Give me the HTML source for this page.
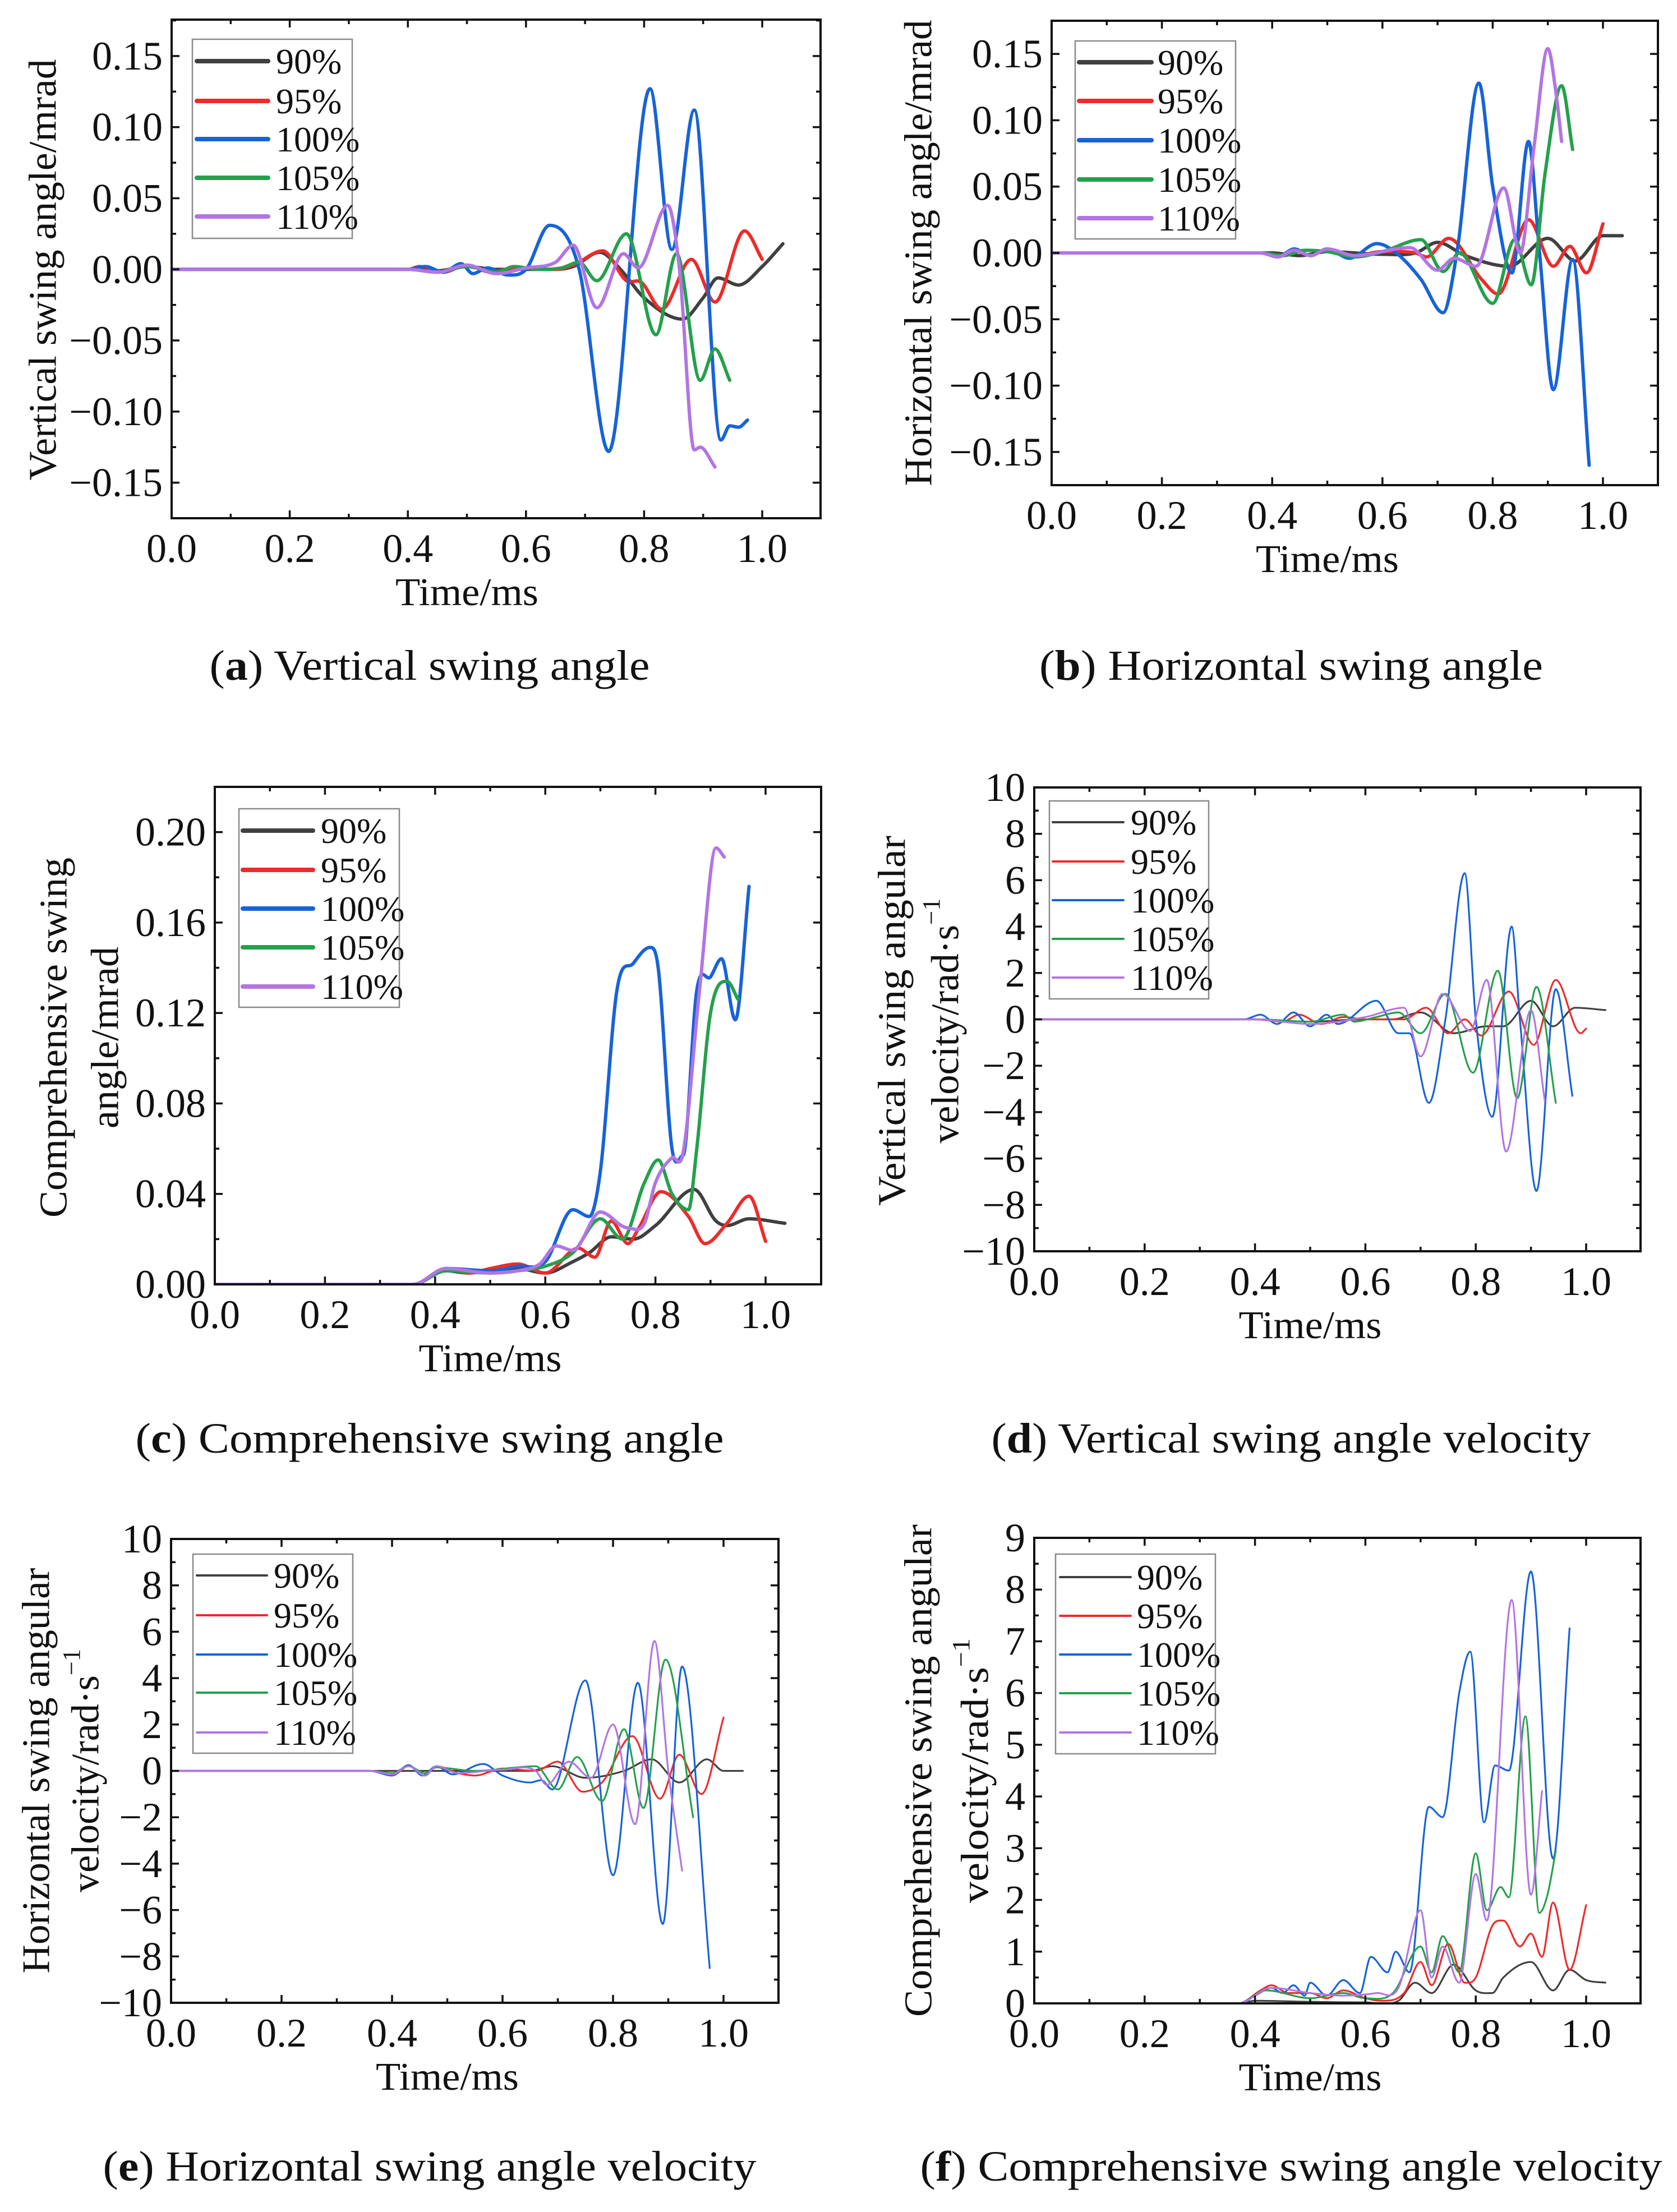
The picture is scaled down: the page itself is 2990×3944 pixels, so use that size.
<!DOCTYPE html>
<html><head><meta charset="utf-8">
<style>
html,body{margin:0;padding:0;background:#fff;}
svg{display:block;}
text{font-family:"Liberation Serif","DejaVu Serif",serif;fill:#111;}
</style></head>
<body>
<svg id="fig" xmlns="http://www.w3.org/2000/svg" width="2990" height="3944" viewBox="0 0 2990 3944">
<rect x="0" y="0" width="2990" height="3944" fill="#fff"/>
<g id="layer"></g>
</svg>
<script>
// ---------- data (time in ms, value) ----------
const seriesNames = ["90%","95%","100%","105%","110%"];
const xTickVals = [0,0.2,0.4,0.6,0.8,1.0];
const xTickLabels = ["0.0","0.2","0.4","0.6","0.8","1.0"];

const aTickVals = [-0.15,-0.10,-0.05,0,0.05,0.10,0.15];
const aTickLabels = ["\u22120.15","\u22120.10","\u22120.05","0.00","0.05","0.10","0.15"];
const a90 = [[0,0],[0.4,0],[0.45,-0.001],[0.5,0.002],[0.55,0],[0.6,0],[0.65,0],[0.68,0.002],[0.725,0.012],[0.76,0],[0.8,-0.02],[0.865,-0.035],[0.9,-0.02],[0.925,-0.006],[0.96,-0.011],[1.0,0.002],[1.035,0.018]];
const a95 = [[0,0],[0.4,0],[0.42,0.002],[0.46,-0.002],[0.5,0.003],[0.54,-0.002],[0.58,0.001],[0.65,0],[0.68,0.003],[0.73,0.013],[0.77,-0.008],[0.795,-0.009],[0.83,-0.028],[0.88,0.007],[0.92,-0.023],[0.97,0.027],[1.0,0.007]];
const a100 = [[0,0],[0.4,0],[0.43,0.002],[0.46,-0.002],[0.49,0.004],[0.51,-0.003],[0.535,0.001],[0.57,-0.004],[0.6,0.0],[0.64,0.031],[0.69,0.0],[0.74,-0.128],[0.81,0.127],[0.847,0.014],[0.885,0.112],[0.93,-0.12],[0.945,-0.11],[0.96,-0.111],[0.975,-0.106]];
const a105 = [[0,0],[0.4,0],[0.45,-0.002],[0.5,0.002],[0.55,-0.002],[0.58,0.002],[0.62,0],[0.66,0.001],[0.69,0.005],[0.72,-0.008],[0.77,0.025],[0.82,-0.046],[0.855,0.011],[0.895,-0.078],[0.92,-0.056],[0.945,-0.078]];
const a110 = [[0,0],[0.4,0],[0.45,-0.002],[0.5,0.003],[0.55,-0.003],[0.6,0.001],[0.65,0.005],[0.68,0.017],[0.72,-0.027],[0.765,0.011],[0.79,0.001],[0.84,0.045],[0.86,0.0],[0.885,-0.127],[0.895,-0.125],[0.92,-0.139]];

const bTickVals = aTickVals;
const bTickLabels = aTickLabels;
const b90 = [[0,0],[0.4,0],[0.45,-0.002],[0.5,0.001],[0.6,-0.001],[0.66,0],[0.70,0.008],[0.75,-0.002],[0.83,-0.010],[0.90,0.011],[0.95,-0.006],[1.0,0.013],[1.035,0.013]];
const b95 = [[0,0],[0.38,0],[0.41,-0.003],[0.44,0.002],[0.47,-0.002],[0.5,0.003],[0.54,-0.003],[0.6,0.001],[0.66,0],[0.68,-0.003],[0.72,0.011],[0.78,-0.02],[0.81,-0.031],[0.865,0.025],[0.91,-0.01],[0.94,0.005],[0.97,-0.015],[1.0,0.022]];
const b100 = [[0,0],[0.38,0],[0.41,-0.003],[0.44,0.003],[0.47,-0.002],[0.5,0.003],[0.54,-0.004],[0.59,0.007],[0.625,0.0],[0.67,-0.02],[0.71,-0.045],[0.735,0.0],[0.775,0.128],[0.80,0.05],[0.835,-0.015],[0.865,0.084],[0.885,0.0],[0.91,-0.103],[0.945,-0.005],[0.975,-0.16]];
const b105 = [[0,0],[0.38,0],[0.42,-0.002],[0.46,0.002],[0.5,0.001],[0.55,-0.003],[0.6,0.001],[0.67,0.010],[0.71,-0.014],[0.74,0.0],[0.80,-0.038],[0.84,0.010],[0.87,-0.024],[0.895,0.06],[0.925,0.126],[0.945,0.078]];
const b110 = [[0,0],[0.38,0],[0.41,-0.003],[0.44,0.002],[0.47,-0.002],[0.5,0.003],[0.55,-0.002],[0.65,0.004],[0.70,-0.013],[0.73,-0.004],[0.77,-0.01],[0.82,0.049],[0.85,0.0],[0.875,0.08],[0.9,0.154],[0.915,0.12],[0.925,0.084]];

const cTickVals = [0,0.04,0.08,0.12,0.16,0.20];
const cTickLabels = ["0.00","0.04","0.08","0.12","0.16","0.20"];
const c90 = [[0,0],[0.36,0],[0.42,0.006],[0.46,0.005],[0.5,0.006],[0.55,0.007],[0.6,0.005],[0.65,0.01],[0.68,0.014],[0.72,0.021],[0.76,0.02],[0.8,0.026],[0.87,0.042],[0.91,0.028],[0.93,0.026],[0.97,0.029],[1.035,0.027]];
const c95 = [[0,0],[0.36,0],[0.42,0.007],[0.46,0.005],[0.5,0.007],[0.55,0.009],[0.6,0.005],[0.66,0.016],[0.69,0.012],[0.72,0.028],[0.75,0.018],[0.77,0.025],[0.81,0.041],[0.86,0.03],[0.89,0.018],[0.93,0.027],[0.97,0.039],[1.0,0.019]];
const c100 = [[0,0],[0.36,0],[0.42,0.007],[0.5,0.006],[0.55,0.008],[0.6,0.01],[0.65,0.033],[0.68,0.03],[0.7,0.05],[0.73,0.13],[0.76,0.142],[0.79,0.149],[0.805,0.14],[0.83,0.06],[0.85,0.057],[0.875,0.13],[0.9,0.136],[0.92,0.144],[0.945,0.117],[0.97,0.176]];
const c105 = [[0,0],[0.36,0],[0.42,0.006],[0.5,0.005],[0.55,0.006],[0.6,0.008],[0.65,0.014],[0.70,0.029],[0.74,0.02],[0.78,0.045],[0.805,0.055],[0.83,0.04],[0.86,0.033],[0.875,0.06],[0.9,0.12],[0.93,0.134],[0.95,0.126]];
const c110 = [[0,0],[0.36,0],[0.42,0.007],[0.5,0.005],[0.55,0.006],[0.59,0.009],[0.62,0.017],[0.65,0.015],[0.7,0.032],[0.75,0.025],[0.78,0.027],[0.8,0.045],[0.83,0.056],[0.85,0.058],[0.88,0.13],[0.91,0.193],[0.925,0.189]];

const dTickVals = [-10,-8,-6,-4,-2,0,2,4,6,8,10];
const dTickLabels = ["\u221210","\u22128","\u22126","\u22124","\u22122","0","2","4","6","8","10"];
const d90 = [[0,0],[0.4,0],[0.5,-0.1],[0.6,0],[0.65,0],[0.70,0.3],[0.76,-0.6],[0.82,-0.3],[0.85,-0.3],[0.9,0.8],[0.94,-0.3],[0.98,0.5],[1.035,0.4]];
const d95 = [[0,0],[0.4,0],[0.45,-0.1],[0.48,0.2],[0.52,-0.2],[0.56,0.1],[0.6,0],[0.67,0],[0.71,0.5],[0.75,-0.6],[0.78,0.0],[0.81,-0.7],[0.86,1.2],[0.905,-1.1],[0.945,1.7],[0.99,-0.6],[1.0,-0.4]];
const d100 = [[0,0],[0.38,0],[0.41,0.2],[0.44,-0.2],[0.47,0.3],[0.5,-0.3],[0.53,0.2],[0.55,-0.2],[0.62,0.8],[0.66,-0.6],[0.68,-0.6],[0.715,-3.6],[0.745,0],[0.78,6.3],[0.80,0],[0.83,-4.2],[0.865,4.0],[0.88,0],[0.91,-7.4],[0.945,1.3],[0.975,-3.3]];
const d105 = [[0,0],[0.4,0],[0.5,-0.1],[0.56,0.2],[0.58,-0.1],[0.62,0.1],[0.66,0.3],[0.70,-0.6],[0.745,1.1],[0.795,-2.3],[0.84,2.1],[0.875,-3.4],[0.91,1.4],[0.945,-3.6]];
const d110 = [[0,0],[0.4,0],[0.5,-0.2],[0.6,0.1],[0.67,0.5],[0.70,-1.6],[0.74,1.1],[0.79,-0.5],[0.82,1.7],[0.855,-5.7],[0.9,0.4],[0.925,-3.5]];

const eTickVals = dTickVals;
const eTickLabels = dTickLabels;
const e90 = [[0,0],[0.4,0],[0.5,0],[0.65,0],[0.69,0.2],[0.75,-0.3],[0.82,0],[0.87,0.5],[0.92,-0.5],[0.97,0.5],[1.0,0],[1.035,0]];
const e95 = [[0,0],[0.36,0],[0.4,-0.2],[0.43,0.2],[0.46,-0.2],[0.48,0.2],[0.52,-0.1],[0.55,-0.2],[0.6,0.1],[0.66,0],[0.7,0.4],[0.745,-0.9],[0.78,-0.5],[0.835,1.5],[0.885,-1.2],[0.92,0.7],[0.96,-1.0],[1.0,2.3]];
const e100 = [[0,0],[0.36,0],[0.4,-0.2],[0.43,0.25],[0.455,-0.2],[0.48,0.2],[0.51,-0.15],[0.565,0.3],[0.6,-0.2],[0.65,-0.5],[0.67,-0.4],[0.69,-0.8],[0.75,3.9],[0.80,-4.5],[0.845,3.8],[0.89,-6.6],[0.925,4.5],[0.975,-8.5]];
const e105 = [[0,0],[0.36,0],[0.4,-0.1],[0.43,0.2],[0.46,-0.1],[0.48,0.15],[0.55,0],[0.66,0.2],[0.70,-0.8],[0.735,0.6],[0.78,-1.3],[0.82,1.8],[0.855,-1.6],[0.895,4.8],[0.945,-2.0]];
const e110 = [[0,0],[0.36,0],[0.4,-0.15],[0.43,0.2],[0.46,-0.2],[0.48,0.2],[0.52,-0.1],[0.6,0.05],[0.66,0.0],[0.68,-0.6],[0.72,0.4],[0.76,-0.3],[0.80,2.0],[0.84,-2.3],[0.875,5.6],[0.9,0],[0.925,-4.3]];

const fTickVals = [0,1,2,3,4,5,6,7,8,9];
const fTickLabels = ["0","1","2","3","4","5","6","7","8","9"];
const f90 = [[0,0],[0.37,0],[0.4,0.05],[0.5,0.03],[0.6,0.02],[0.66,0.05],[0.69,0.4],[0.72,0.2],[0.76,0.75],[0.8,0.25],[0.83,0.2],[0.85,0.5],[0.9,0.8],[0.94,0.25],[0.97,0.65],[1.0,0.45],[1.035,0.4]];
const f95 = [[0,0],[0.37,0],[0.41,0.25],[0.43,0.35],[0.46,0.2],[0.5,0.2],[0.53,0.1],[0.56,0.25],[0.6,0.1],[0.63,0.05],[0.67,0.2],[0.7,0.8],[0.72,0.35],[0.75,1.15],[0.78,0.4],[0.8,0.5],[0.83,1.5],[0.85,1.6],[0.88,1.1],[0.9,1.35],[0.92,0.9],[0.94,1.95],[0.97,0.65],[1.0,1.9]];
const f100 = [[0,0],[0.37,0],[0.4,0.15],[0.43,0.3],[0.45,0.2],[0.47,0.35],[0.49,0.15],[0.5,0.4],[0.53,0.15],[0.56,0.45],[0.59,0.2],[0.61,0.9],[0.64,0.6],[0.655,1.0],[0.68,0.6],[0.715,3.8],[0.74,3.6],[0.77,6.0],[0.79,6.8],[0.815,3.5],[0.835,4.6],[0.86,4.5],[0.9,8.35],[0.94,2.8],[0.97,7.25]];
const f105 = [[0,0],[0.37,0],[0.42,0.25],[0.5,0.1],[0.56,0.2],[0.6,0.1],[0.65,0.2],[0.7,1.1],[0.72,0.6],[0.74,1.3],[0.77,0.6],[0.8,2.9],[0.82,1.8],[0.845,2.25],[0.86,2.05],[0.89,5.55],[0.915,1.75],[0.93,2.1],[0.945,2.95]];
const f110 = [[0,0],[0.37,0],[0.43,0.3],[0.5,0.2],[0.56,0.15],[0.62,0.2],[0.66,0.3],[0.7,1.8],[0.72,0.5],[0.74,1.1],[0.77,0.4],[0.8,2.5],[0.82,1.6],[0.865,7.8],[0.9,2.1],[0.92,4.1]];

// ---------- layout ----------
const COLORS = ["#404040","#ee2b2b","#1763d8","#25a04c","#b275e3"];
const panels = [
 {id:"a", L:306,R:1463,T:35,B:924, x0:306,x1:1359, yMin:-0.175,yMax:0.1756, ticks:aTickVals, labels:aTickLabels, minor:0.025, major:0.05,
  series:[a90,a95,a100,a105,a110], lw:6, lgLw:8,
  leg:{x:343,y:70,w:285,h:355,ys:[109,180,248,317,386],lx1:351,lx2:478,tx:492},
  ytitle:[{t:"Vertical swing angle/mrad",x:77,len:751}], cy:481,
  cap:{label:"a",text:" Vertical swing angle",cx:766,by:1212,len:785}},
 {id:"b", L:1875,R:2956,T:37,B:865, x0:1875,x1:2858, yMin:-0.175,yMax:0.175, ticks:bTickVals, labels:bTickLabels, minor:0.025, major:0.05,
  series:[b90,b95,b100,b105,b110], lw:6, lgLw:8,
  leg:{x:1917,y:73,w:286,h:353,ys:[111,180,250,320,389],lx1:1924,lx2:2053,tx:2064},
  ytitle:[{t:"Horizontal swing angle/mrad",x:1638,len:831}], cy:451,
  cap:{label:"b",text:" Horizontal swing angle",cx:2302,by:1212,len:898}},
 {id:"c", L:383,R:1464,T:1403,B:2290, x0:383,x1:1365, yMin:0,yMax:0.22, ticks:cTickVals, labels:cTickLabels, minor:0.02, major:0.04,
  series:[c90,c95,c100,c105,c110], lw:6, lgLw:8,
  leg:{x:426,y:1442,w:286,h:354,ys:[1481,1551,1620,1689,1759],lx1:433,lx2:558,tx:572},
  ytitle:[{t:"Comprehensive swing",x:96,len:642},{t:"angle/mrad",x:188,len:324}], cy:1850,
  cap:{label:"c",text:" Comprehensive swing angle",cx:766,by:2590,len:1049}},
 {id:"d", L:1844,R:2925,T:1404,B:2231, x0:1844,x1:2828, yMin:-10,yMax:10, ticks:dTickVals, labels:dTickLabels, minor:1, major:2,
  series:[d90,d95,d100,d105,d110], lw:3.2, lgLw:4,
  leg:{x:1871,y:1428,w:284,h:353,ys:[1466,1536,1605,1674,1743],lx1:1877,lx2:2003,tx:2016},
  ytitle:[{t:"Vertical swing angular",x:1591,len:660},{t:"velocity/rad\u00b7s",sup:true,x:1686,len:437}], cy:1820,
  cap:{label:"d",text:" Vertical swing angle velocity",cx:2302,by:2590,len:1069}},
 {id:"e", L:305,R:1388,T:2744,B:3571, x0:305,x1:1290, yMin:-10,yMax:10, ticks:eTickVals, labels:eTickLabels, minor:1, major:2,
  series:[e90,e95,e100,e105,e110], lw:3.2, lgLw:4,
  leg:{x:344,y:2771,w:285,h:355,ys:[2809,2880,2950,3018,3089],lx1:351,lx2:476,tx:488},
  ytitle:[{t:"Horizontal swing angular",x:65,len:723},{t:"velocity/rad\u00b7s",sup:true,x:153,len:434}], cy:3157,
  cap:{label:"e",text:" Horizontal swing angle velocity",cx:766,by:3888,len:1165}},
 {id:"f", L:1844,R:2925,T:2742,B:3572, x0:1844,x1:2828, yMin:0,yMax:9, ticks:fTickVals, labels:fTickLabels, minor:0.5, major:1,
  series:[f90,f95,f100,f105,f110], lw:3.2, lgLw:4,
  leg:{x:1882,y:2771,w:285,h:356,ys:[2812,2881,2950,3019,3089],lx1:1890,lx2:2016,tx:2027},
  ytitle:[{t:"Comprehensive swing angular",x:1638,len:878},{t:"velocity/rad\u00b7s",sup:true,x:1739,len:472}], cy:3157,
  cap:{label:"f",text:" Comprehensive swing angle velocity",cx:2302,by:3888,len:1323}}
];

const NS="http://www.w3.org/2000/svg";
const layer=document.getElementById("layer");
function mk(tag,attrs,parent){const e=document.createElementNS(NS,tag);for(const k in attrs)e.setAttribute(k,attrs[k]);(parent||layer).appendChild(e);return e;}

// cubic Hermite in x (no loops, no backward overshoot)
function smoothPath(pts){
  const n=pts.length; if(n<2)return "";
  const sec=[]; for(let i=0;i<n-1;i++){sec.push((pts[i+1][1]-pts[i][1])/(pts[i+1][0]-pts[i][0]));}
  const m=[]; for(let i=0;i<n;i++){
    if(i===0)m.push(sec[0]); else if(i===n-1)m.push(sec[n-2]);
    else { if(sec[i-1]*sec[i]<=0) m.push(0); else m.push((sec[i-1]+sec[i])/2); }
  }
  let d="M"+pts[0][0].toFixed(1)+","+pts[0][1].toFixed(1);
  for(let i=0;i<n-1;i++){
    const dx=(pts[i+1][0]-pts[i][0])/3;
    d+=" C"+(pts[i][0]+dx).toFixed(1)+","+(pts[i][1]+m[i]*dx).toFixed(1)+" "+(pts[i+1][0]-dx).toFixed(1)+","+(pts[i+1][1]-m[i+1]*dx).toFixed(1)+" "+pts[i+1][0].toFixed(1)+","+pts[i+1][1].toFixed(1);
  }
  return d;
}

panels.forEach(p=>{
  const g=mk("g",{});
  
  
  const X=v=>p.x0+(v-0)*(p.x1-p.x0)/1.0;
  const Y=v=>p.B-(v-p.yMin)*(p.B-p.T)/(p.yMax-p.yMin);
  const cp=mk("clipPath",{id:"clip-"+p.id},g);
  mk("rect",{x:p.L,y:p.T,width:p.R-p.L,height:p.B-p.T},cp);
  const sg=mk("g",{"clip-path":"url(#clip-"+p.id+")"},g);
  p.series.forEach((s,i)=>{
    const pts=s.map(d=>[X(d[0]),Y(d[1])]);
    const path=mk("path",{d:smoothPath(pts),fill:"none",stroke:COLORS[i],"stroke-width":p.lw,"stroke-linejoin":"round","stroke-linecap":"round"},sg);
    
    
  });
  const fr=mk("rect",{x:p.L,y:p.T,width:p.R-p.L,height:p.B-p.T,fill:"none",stroke:"#111","stroke-width":4},g);
  
  
  const tk=mk("g",{stroke:"#111","stroke-width":3.5},g);
  for(let k=0;k<=11;k++){
    const v=k*0.1;
    const isMaj=(k%2===0);
    const len=isMaj?14:8,x=X(v);
    if(x>p.R-2)continue;
    mk("line",{x1:x,y1:p.B,x2:x,y2:p.B-len},tk);
    mk("line",{x1:x,y1:p.T,x2:x,y2:p.T+len},tk);
  }
  xTickVals.forEach((v,i)=>{
    const t=mk("text",{x:X(v),y:p.B+78,"text-anchor":"middle","font-size":72},g);
    t.textContent=xTickLabels[i];
    
    
  });
  const nMinor=Math.round((p.yMax-p.yMin)/p.minor)+2;
  const start=Math.ceil(p.yMin/p.minor-1e-6)*p.minor;
  for(let k=0;k<nMinor;k++){
    const v=start+k*p.minor; if(v>p.yMax+1e-9)break;
    const isMaj=Math.abs(v/p.major-Math.round(v/p.major))<1e-6;
    const len=isMaj?14:8,y=Y(v);
    if(y<p.T+1||y>p.B-1)continue;
    mk("line",{x1:p.L,y1:y,x2:p.L+len,y2:y},tk);
    mk("line",{x1:p.R,y1:y,x2:p.R-len,y2:y},tk);
  }
  p.ticks.forEach((v,i)=>{
    const t=mk("text",{x:p.L-16,y:Y(v)+24,"text-anchor":"end","font-size":72},g);
    t.textContent=p.labels[i];
    
    
  });
  const xt=mk("text",{x:(p.x0+p.x1)/2,y:p.B+155,"text-anchor":"middle","font-size":70,textLength:255,lengthAdjust:"spacingAndGlyphs"},g);
  xt.textContent="Time/ms";
  
  
  p.ytitle.forEach((yt,i)=>{
    const t=mk("text",{x:yt.x,y:p.cy,"text-anchor":"middle","dominant-baseline":"central","font-size":70,transform:"rotate(-90 "+yt.x+" "+p.cy+")",textLength:yt.len,lengthAdjust:"spacingAndGlyphs"},g);
    t.textContent=yt.t;
    if(yt.sup){const s=mk("tspan",{"font-size":44,dy:-26},t);s.textContent="\u22121";}
    
    
  });
  const lg=mk("g",{},g);
  
  
  mk("rect",{x:p.leg.x,y:p.leg.y,width:p.leg.w,height:p.leg.h,fill:"#fff",stroke:"#8a8a8a","stroke-width":2.5},lg);
  seriesNames.forEach((n,i)=>{
    const e=mk("g",{},lg);
    
    
    mk("line",{x1:p.leg.lx1,y1:p.leg.ys[i],x2:p.leg.lx2,y2:p.leg.ys[i],stroke:COLORS[i],"stroke-width":p.lgLw,"stroke-linecap":"round"},e);
    const t=mk("text",{x:p.leg.tx,y:p.leg.ys[i]+22,"font-size":64},e);
    t.textContent=n;
  });
  const c=mk("text",{x:p.cap.cx,y:p.cap.by,"text-anchor":"middle","font-size":76,textLength:p.cap.len,lengthAdjust:"spacingAndGlyphs"},g);
  c.appendChild(document.createTextNode("("));
  const b=mk("tspan",{"font-weight":"bold"},c); b.textContent=p.cap.label;
  c.appendChild(document.createTextNode(")"+p.cap.text));
  
  
});
</script>
</body></html>
